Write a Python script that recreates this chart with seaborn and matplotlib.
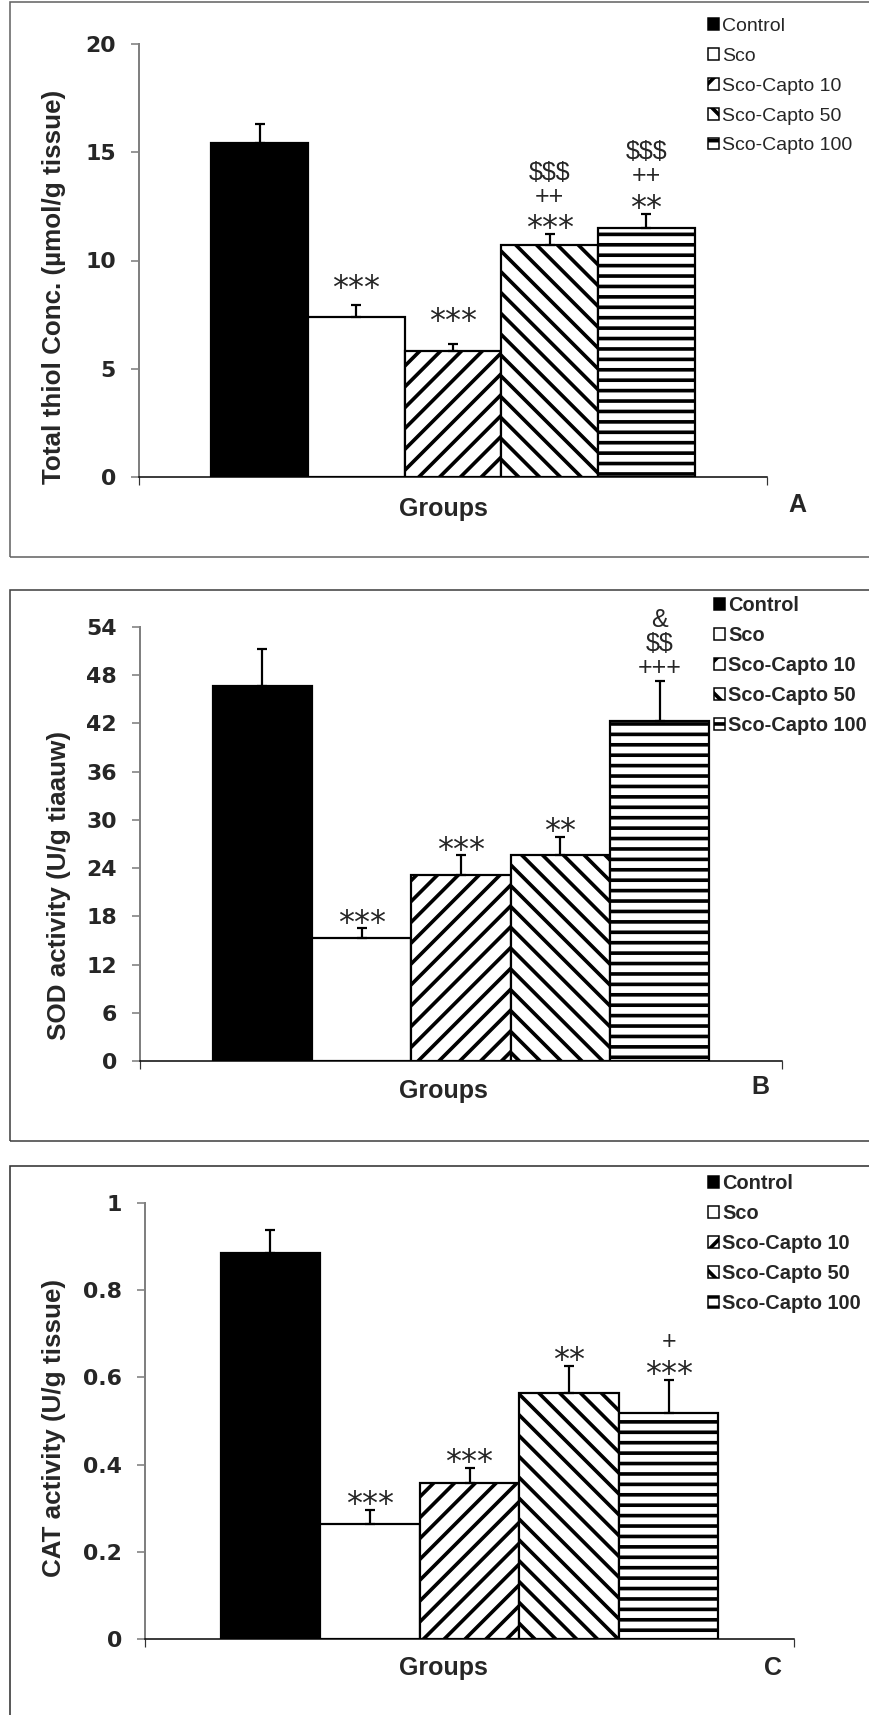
import numpy as np
import pandas as pd
import seaborn as sns
import matplotlib
matplotlib.use("Agg")
import matplotlib.pyplot as plt
from matplotlib.patches import Rectangle, Patch

# ---------------- data ----------------
groups = ["Control", "Sco", "Sco-Capto 10", "Sco-Capto 50", "Sco-Capto 100"]

thiol_mean = [15.43, 7.39, 5.83, 10.73, 11.50]
thiol_err = [0.87, 0.57, 0.33, 0.50, 0.66]
thiol_marks = [[], ["***"], ["***"], ["***", "++", "$$$"], ["**", "++", "$$$"]]

sod_mean = [46.7, 15.3, 23.2, 25.6, 42.3]
sod_err = [4.6, 1.2, 2.4, 2.3, 5.0]
sod_marks = [[], ["***"], ["***"], ["**"], ["+++", "$$", "&"]]

cat_mean = [0.885, 0.264, 0.358, 0.564, 0.518]
cat_err = [0.052, 0.033, 0.034, 0.062, 0.077]
cat_marks = [[], ["***"], ["***"], ["**"], ["***", "+"]]

thiol_ticks = [0, 5, 10, 15, 20]
sod_ticks = [0, 6, 12, 18, 24, 30, 36, 42, 48, 54]
cat_ticks = [0, 0.2, 0.4, 0.6, 0.8, 1.0]
cat_tick_labels = ["0", "0.2", "0.4", "0.6", "0.8", "1"]

# ---------------- style ----------------
DPI = 125
W, H = 869, 1715
sns.set_style("white")
plt.rcParams["font.family"] = ["Liberation Sans", "DejaVu Sans"]
plt.rcParams["hatch.linewidth"] = 2.1


def px(v):
    return v * 72.0 / DPI


colors = ["black", "white", "white", "white", "white"]
hatches = [None, None, "//", "\\\\", "--"]

fig = plt.figure(figsize=(W / DPI, H / DPI), dpi=DPI)
fig.patch.set_facecolor("white")

# panel frames (figure level)
for (top, bottom, col) in [(2, 557, "#666666"), (590, 1141, "#444444"), (1166, 1760, "#333333")]:
    fig.patches.append(Rectangle((10 / W, 1 - bottom / H), 1.2, (bottom - top) / H,
                                 transform=fig.transFigure, fill=False,
                                 edgecolor=col, linewidth=px(1.6), zorder=0))

panels = [
    dict(mean=thiol_mean, err=thiol_err, marks=thiol_marks, ticks=thiol_ticks, labels=[str(t) for t in thiol_ticks],
         ylim=(0, 20), box=(139, 767, 44, 477), xl=(-1.25, 5.25),
         ylabel="Total thiol Conc. (µmol/g tissue)", ylab_xy=(54, 287),
         grp_xy=(443, 509), letter="A", let_xy=(797, 505),
         leg_xy=(708, 18), leg_bold=False, leg_sp=0.66, first=[15, 26, 32, 15, 15]),
    dict(mean=sod_mean, err=sod_err, marks=sod_marks, ticks=sod_ticks, labels=[str(t) for t in sod_ticks],
         ylim=(0, 54), box=(140, 782, 627, 1061), xl=(-1.23, 5.23),
         ylabel="SOD activity (U/g tiaauw)", ylab_xy=(59, 886),
         grp_xy=(443, 1091), letter="B", let_xy=(760, 1087),
         leg_xy=(714, 596), leg_bold=True, leg_sp=0.55, first=[15, 15, 15, 15, 15]),
    dict(mean=cat_mean, err=cat_err, marks=cat_marks, ticks=cat_ticks, labels=cat_tick_labels,
         ylim=(0, 1), box=(145, 794, 1203, 1639), xl=(-1.26, 5.26),
         ylabel="CAT activity (U/g tissue)", ylab_xy=(54, 1428),
         grp_xy=(443, 1668), letter="C", let_xy=(773, 1668),
         leg_xy=(708, 1174), leg_bold=True, leg_sp=0.55, first=[15, 15, 15, 15, 15]),
]

AST_FS = 32      # px, asterisk lines
SYM_FS = 25      # px, other symbol lines
STEP = 24        # px between stacked mark lines

for p in panels:
    x0, x1, ytop, ybot = p["box"]
    ax = fig.add_axes([x0 / W, 1 - ybot / H, (x1 - x0) / W, (ybot - ytop) / H])
    df = pd.DataFrame({"group": groups, "value": p["mean"]})
    sns.barplot(data=df, x="group", y="value", hue="group", order=groups, hue_order=groups,
                palette=dict(zip(groups, colors)), width=1.0, dodge=False,
                edgecolor="black", linewidth=px(2.2), errorbar=None, legend=False, ax=ax)
    for patch, h in zip(ax.patches, hatches):
        if h:
            patch.set_hatch(h)
    xs = np.arange(len(groups))
    ax.errorbar(xs, p["mean"], yerr=[np.zeros(len(groups)), p["err"]], fmt="none",
                ecolor="black", elinewidth=px(2.2), capsize=px(5), capthick=px(2.2), zorder=5)
    for xi, m, e, lines, f0 in zip(xs, p["mean"], p["err"], p["marks"], p["first"]):
        for k, s in enumerate(lines):
            centre = f0 + k * STEP
            if "*" in s:
                fs, fam, cfrac = AST_FS, ["DejaVu Sans"], 0.575
            else:
                fs, fam, cfrac = SYM_FS, ["Liberation Sans", "DejaVu Sans"], 0.35
            ax.annotate(s, xy=(xi, m + e), xytext=(0, px(centre - cfrac * fs)),
                        textcoords="offset points", ha="center", va="baseline",
                        fontsize=px(fs), family=fam, annotation_clip=False, parse_math=False)
    ax.set_xlim(*p["xl"])
    ax.set_ylim(*p["ylim"])
    ax.set_yticks(p["ticks"])
    ax.set_yticklabels(p["labels"], fontsize=px(22), fontweight="bold", family=["DejaVu Sans"])
    ax.set_xticks(list(p["xl"]))
    ax.set_xticklabels(["", ""])
    ax.tick_params(axis="y", direction="out", length=px(8), width=px(1.5), color="#777777", pad=px(15), left=True)
    ax.tick_params(axis="x", direction="out", length=px(8), width=px(1.2), color="#333333", bottom=True)
    for side in ["top", "right"]:
        ax.spines[side].set_visible(False)
    ax.spines["left"].set_color("#808080")
    ax.spines["left"].set_linewidth(px(2))
    ax.spines["bottom"].set_color("black")
    ax.spines["bottom"].set_linewidth(px(1.5))
    ax.patch.set_alpha(0)

    ax.set_ylabel(p["ylabel"], fontsize=px(26), fontweight="bold")
    lx, ly = p["ylab_xy"]
    ax.yaxis.set_label_coords((lx - x0) / (x1 - x0), (ybot - ly) / (ybot - ytop))
    ax.yaxis.label.set_verticalalignment("center")
    ax.set_xlabel("Groups", fontsize=px(25), fontweight="bold")
    gx, gy = p["grp_xy"]
    ax.xaxis.set_label_coords((gx - x0) / (x1 - x0), (ybot - gy) / (ybot - ytop))
    ax.xaxis.label.set_verticalalignment("center")

    fig.text(p["let_xy"][0] / W, 1 - p["let_xy"][1] / H, p["letter"], ha="center", va="center",
             fontsize=px(25), fontweight="bold")

    handles = [Patch(facecolor=c, edgecolor="black", hatch=h, linewidth=px(1.5), label=g)
               for c, h, g in zip(colors, hatches, groups)]
    lx0, ly0 = p["leg_xy"]
    fig.legend(handles=handles, loc="upper left", bbox_to_anchor=(lx0 / W, 1 - ly0 / H),
               frameon=False, handlelength=0.55, handleheight=0.55,
               handletextpad=0.15, labelspacing=p["leg_sp"], borderpad=0, borderaxespad=0,
               prop=dict(size=px(19.5 if not p["leg_bold"] else 20),
                         weight="bold" if p["leg_bold"] else "normal"))

fig.savefig("out.png", dpi=DPI, facecolor="white")
